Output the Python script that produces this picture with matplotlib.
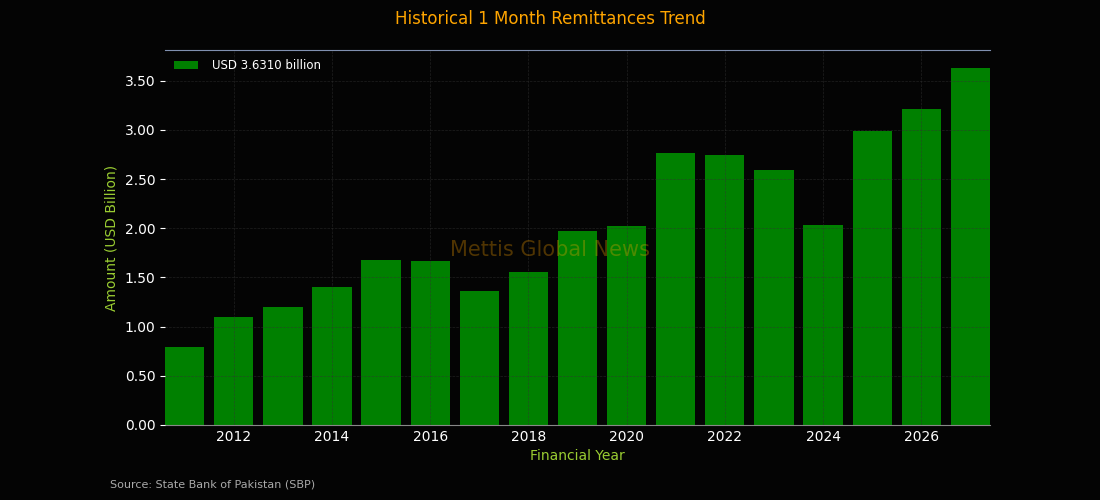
import matplotlib
matplotlib.use('Agg')
import matplotlib.pyplot as plt

# Remittance values by financial year (USD billion)
years = [2011, 2012, 2013, 2014, 2015, 2016, 2017, 2018, 2019,
         2020, 2021, 2022, 2023, 2024, 2025, 2026, 2027]
amounts = [0.79, 1.10, 1.20, 1.40, 1.68, 1.67, 1.36, 1.56, 1.97,
           2.02, 2.77, 2.74, 2.59, 2.03, 2.99, 3.21, 3.631]
legend_label = 'USD 3.6310 billion'

bg = '#040404'
fig = plt.figure(figsize=(11, 5), dpi=100, facecolor=bg)
ax = fig.add_axes([0.15, 0.15, 0.75, 0.75], facecolor=bg)

ax.bar(years, amounts, width=0.8, color='green', label=legend_label)
ax.set_xlim(years[0] - 0.4, years[-1] + 0.4)
ax.set_ylim(0, max(amounts) * 1.05)

ax.set_axisbelow(False)
ax.grid(True, color='#333333', linestyle='--', linewidth=0.5, alpha=0.6)

fig.text(0.5, 0.963, 'Historical 1 Month Remittances Trend', color='orange',
         fontsize=12, ha='center', va='center')
ax.set_xlabel('Financial Year', color='yellowgreen', fontsize=10)
ax.set_ylabel('Amount (USD Billion)', color='yellowgreen', fontsize=10)
ax.yaxis.set_major_formatter(matplotlib.ticker.FormatStrFormatter('%.2f'))
ax.tick_params(colors='white', labelsize=10)
ax.tick_params(axis='x', length=0)

for side in ['left', 'right']:
    ax.spines[side].set_visible(False)
ax.spines['top'].set_color('#8090b0')
ax.spines['bottom'].set_color('#888888')

leg = ax.legend(loc='upper left', frameon=False, fontsize=8.5, handletextpad=1.2,
                borderaxespad=0.4)
for t in leg.get_texts():
    t.set_color('white')

fig.text(0.5, 0.5, 'Mettis Global News', ha='center', va='center',
         fontsize=15, color='orange', alpha=0.3)

fig.text(0.1, 0.025, 'Source: State Bank of Pakistan (SBP)', color='#aaaaaa', fontsize=8)

fig.savefig('out.png', facecolor=bg)
